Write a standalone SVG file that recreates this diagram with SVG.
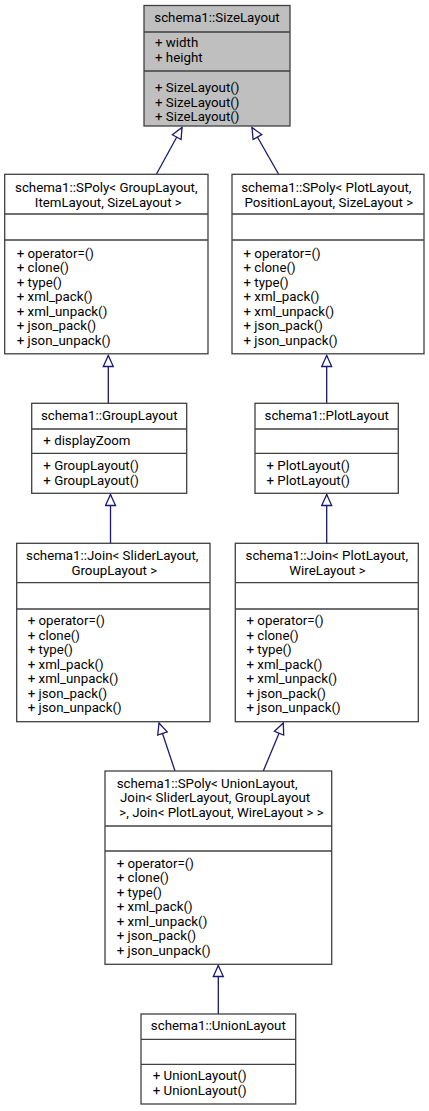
<svg xmlns="http://www.w3.org/2000/svg" width="429" height="1111" viewBox="0 0 429 1111">
<style>
.box{fill:#ffffff;stroke:#404040;stroke-width:1.3}
.root{fill:#bfbfbf}
.div{stroke:#404040;stroke-width:1.3;fill:none}
text{font-family:Roboto,"Liberation Sans",sans-serif;font-size:13.3px;fill:#000000}
.c{text-anchor:middle}
.edge{stroke:#191970;stroke-width:1.3;fill:none;marker-end:url(#inh)}
</style>
<defs>
<marker id="inh" markerUnits="userSpaceOnUse" markerWidth="14" markerHeight="14" refX="12" refY="6" orient="auto">
<path d="M1,1 L12,6 L1,11 Z" fill="#ffffff" stroke="#191970" stroke-width="1.3"/>
</marker>
</defs>
<rect width="429" height="1111" fill="#ffffff"/>

<g id="connectors">
<line class="edge" x1="156.5" y1="174" x2="182" y2="127.5"/>
<line class="edge" x1="278.5" y1="174" x2="252" y2="127.5"/>
<line class="edge" x1="108.3" y1="403" x2="108.3" y2="355.5"/>
<line class="edge" x1="326.7" y1="403" x2="326.7" y2="355.5"/>
<line class="edge" x1="110.5" y1="543" x2="110.5" y2="494.5"/>
<line class="edge" x1="326.7" y1="543" x2="326.7" y2="494.5"/>
<line class="edge" x1="175" y1="771" x2="159" y2="723"/>
<line class="edge" x1="263.3" y1="771" x2="283.3" y2="723"/>
<line class="edge" x1="218.3" y1="1014" x2="218.3" y2="965.5"/>
</g>

<g id="SizeLayout">
<rect class="box root" x="144" y="5.5" width="146" height="120.5"/>
<line class="div" x1="144" y1="32" x2="290" y2="32"/>
<line class="div" x1="144" y1="71" x2="290" y2="71"/>
<text class="c" x="217" y="22">schema1::SizeLayout</text>
<text x="155" y="47.3">+ width</text>
<text x="155" y="62">+ height</text>
<text x="155" y="92">+ SizeLayout()</text>
<text x="155" y="106.5">+ SizeLayout()</text>
<text x="155" y="121">+ SizeLayout()</text>
</g>

<g id="SPolyGroup">
<rect class="box" x="4.7" y="174.3" width="203.3" height="179.5"/>
<line class="div" x1="4.7" y1="214" x2="208" y2="214"/>
<line class="div" x1="4.7" y1="240" x2="208" y2="240"/>
<text class="c" x="106.3" y="192.3">schema1::SPoly&lt; GroupLayout,</text>
<text class="c" x="108.3" y="206.8">ItemLayout, SizeLayout &gt;</text>
<text x="16.7" y="257.5">+ operator=()</text>
<text x="16.7" y="272">+ clone()</text>
<text x="16.7" y="286.5">+ type()</text>
<text x="16.7" y="301">+ xml_pack()</text>
<text x="16.7" y="315.5">+ xml_unpack()</text>
<text x="16.7" y="330">+ json_pack()</text>
<text x="16.7" y="344.5">+ json_unpack()</text>
</g>

<g id="SPolyPlot">
<rect class="box" x="232" y="174.3" width="192" height="179.5"/>
<line class="div" x1="232" y1="214" x2="424" y2="214"/>
<line class="div" x1="232" y1="240" x2="424" y2="240"/>
<text class="c" x="326.3" y="192.3">schema1::SPoly&lt; PlotLayout,</text>
<text class="c" x="328.8" y="206.8">PositionLayout, SizeLayout &gt;</text>
<text x="243.5" y="257.5">+ operator=()</text>
<text x="243.5" y="272">+ clone()</text>
<text x="243.5" y="286.5">+ type()</text>
<text x="243.5" y="301">+ xml_pack()</text>
<text x="243.5" y="315.5">+ xml_unpack()</text>
<text x="243.5" y="330">+ json_pack()</text>
<text x="243.5" y="344.5">+ json_unpack()</text>
</g>

<g id="GroupLayout">
<rect class="box" x="31.7" y="403.3" width="155" height="90"/>
<line class="div" x1="31.7" y1="429" x2="186.7" y2="429"/>
<line class="div" x1="31.7" y1="453.3" x2="186.7" y2="453.3"/>
<text class="c" x="109.2" y="419.6">schema1::GroupLayout</text>
<text x="43.3" y="445">+ displayZoom</text>
<text x="43.3" y="470.3">+ GroupLayout()</text>
<text x="43.3" y="485">+ GroupLayout()</text>
</g>

<g id="PlotLayout">
<rect class="box" x="255" y="403.3" width="143.3" height="90"/>
<line class="div" x1="255" y1="429" x2="398.3" y2="429"/>
<line class="div" x1="255" y1="453.3" x2="398.3" y2="453.3"/>
<text class="c" x="326.7" y="419.6">schema1::PlotLayout</text>
<text x="266.5" y="470.3">+ PlotLayout()</text>
<text x="266.5" y="485">+ PlotLayout()</text>
</g>

<g id="JoinSlider">
<rect class="box" x="16.7" y="543.3" width="193.3" height="178.4"/>
<line class="div" x1="16.7" y1="582.7" x2="210" y2="582.7"/>
<line class="div" x1="16.7" y1="609" x2="210" y2="609"/>
<text class="c" x="112.2" y="560.3">schema1::Join&lt; SliderLayout,</text>
<text class="c" x="114.3" y="574.8">GroupLayout &gt;</text>
<text x="27.7" y="625">+ operator=()</text>
<text x="27.7" y="639.5">+ clone()</text>
<text x="27.7" y="654">+ type()</text>
<text x="27.7" y="668.5">+ xml_pack()</text>
<text x="27.7" y="683">+ xml_unpack()</text>
<text x="27.7" y="697.5">+ json_pack()</text>
<text x="27.7" y="712">+ json_unpack()</text>
</g>

<g id="JoinPlot">
<rect class="box" x="235.3" y="543.3" width="183" height="178.4"/>
<line class="div" x1="235.3" y1="582.7" x2="418.3" y2="582.7"/>
<line class="div" x1="235.3" y1="609" x2="418.3" y2="609"/>
<text class="c" x="326.8" y="560.3">schema1::Join&lt; PlotLayout,</text>
<text class="c" x="327.5" y="574.8">WireLayout &gt;</text>
<text x="246.5" y="625">+ operator=()</text>
<text x="246.5" y="639.5">+ clone()</text>
<text x="246.5" y="654">+ type()</text>
<text x="246.5" y="668.5">+ xml_pack()</text>
<text x="246.5" y="683">+ xml_unpack()</text>
<text x="246.5" y="697.5">+ json_pack()</text>
<text x="246.5" y="712">+ json_unpack()</text>
</g>

<g id="SPolyUnion">
<rect class="box" x="105" y="771" width="226.7" height="193.3"/>
<line class="div" x1="105" y1="826" x2="331.7" y2="826"/>
<line class="div" x1="105" y1="851" x2="331.7" y2="851"/>
<text x="116.7" y="787.6">schema1::SPoly&lt; UnionLayout,</text>
<text x="120" y="802">Join&lt; SliderLayout, GroupLayout</text>
<text x="119.3" y="816.5">&gt;, Join&lt; PlotLayout, WireLayout &gt; &gt;</text>
<text x="116.7" y="867.6">+ operator=()</text>
<text x="116.7" y="882">+ clone()</text>
<text x="116.7" y="896.5">+ type()</text>
<text x="116.7" y="911">+ xml_pack()</text>
<text x="116.7" y="925.5">+ xml_unpack()</text>
<text x="116.7" y="940">+ json_pack()</text>
<text x="116.7" y="954.5">+ json_unpack()</text>
</g>

<g id="UnionLayout">
<rect class="box" x="141" y="1014" width="154.7" height="90"/>
<line class="div" x1="141" y1="1039.3" x2="295.7" y2="1039.3"/>
<line class="div" x1="141" y1="1064.3" x2="295.7" y2="1064.3"/>
<text class="c" x="218.3" y="1030">schema1::UnionLayout</text>
<text x="152.7" y="1080">+ UnionLayout()</text>
<text x="152.7" y="1094.8">+ UnionLayout()</text>
</g>
</svg>
